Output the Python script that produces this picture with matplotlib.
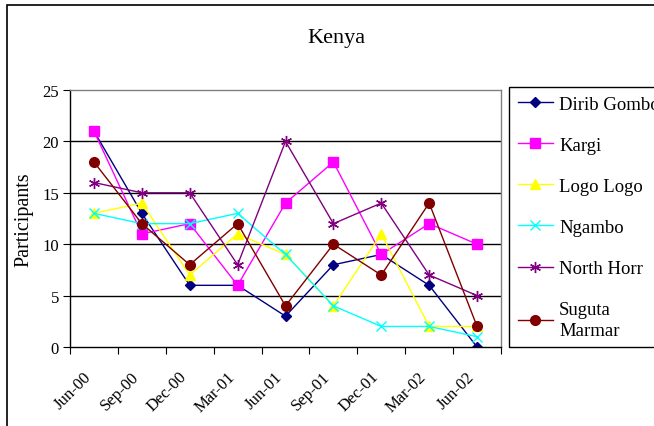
import numpy as np
import matplotlib
matplotlib.use('Agg')
from matplotlib import pyplot as plt
from matplotlib.patches import Rectangle
from matplotlib.transforms import ScaledTranslation

plt.rcParams['font.family'] = ['Liberation Serif', 'DejaVu Serif']

# data
dates = ['Jun-00', 'Sep-00', 'Dec-00', 'Mar-01', 'Jun-01', 'Sep-01', 'Dec-01', 'Mar-02', 'Jun-02']
dirib_gombo = [21, 13, 6, 6, 3, 8, 9, 6, 0]
kargi = [21, 11, 12, 6, 14, 18, 9, 12, 10]
logo_logo = [13, 14, 7, 11, 9, 4, 11, 2, 2]
ngambo = [13, 12, 12, 13, 9, 4, 2, 2, 1]
north_horr = [16, 15, 15, 8, 20, 12, 14, 7, 5]
suguta_marmar = [18, 12, 8, 12, 4, 10, 7, 14, 2]

series = [
    ('Dirib Gombo', dirib_gombo, '#000080', 'D', 5),
    ('Kargi', kargi, '#FF00FF', 's', 7),
    ('Logo Logo', logo_logo, '#FFFF00', '^', 7),
    ('Ngambo', ngambo, '#00FFFF', 'x', 7),
    ('North Horr', north_horr, '#800080', (6, 2, 0), 8),
    ('Suguta\nMarmar', suguta_marmar, '#800000', 'o', 7),
]

W, H = 654, 427
fig = plt.figure(figsize=(W / 100, H / 100), dpi=100)
ax = fig.add_axes([70 / W, 1 - 348 / H, (501 - 70) / W, (348 - 91) / H])

x = np.arange(len(dates)) + 0.5
for name, vals, col, mk, ms in series:
    ax.plot(x, vals, color=col, marker=mk, markersize=ms, linewidth=1.0,
            markeredgecolor=col, markerfacecolor=col, markeredgewidth=1.0, label=name)

ax.set_xlim(0, len(dates))
ax.set_ylim(0, 25)
ax.set_yticks([0, 5, 10, 15, 20, 25])
ax.set_xticks(np.arange(len(dates) + 1))
ax.set_xticklabels([])
ax.set_xticks(x, minor=True)
ax.set_xticklabels(dates, minor=True, rotation=45, ha='right', rotation_mode='anchor', fontsize=12)
ax.tick_params(axis='x', which='minor', length=0, pad=8)
ax.tick_params(axis='x', which='major', length=5, direction='out')
ax.tick_params(axis='y', length=5, direction='out', labelsize=12, pad=3)
shift = ScaledTranslation(-11 / 100, -10 / 100, fig.dpi_scale_trans)
for lab in ax.get_xticklabels(minor=True):
    lab.set_transform(lab.get_transform() + shift)
for yv in [5, 10, 15, 20]:
    ax.axhline(yv, color='black', linewidth=1.0, zorder=0)
ax.spines['top'].set_color('#808080')
ax.spines['right'].set_color('#808080')
for s in ax.spines.values():
    s.set_linewidth(1.0)

ax.set_ylabel('Participants', fontsize=14.5)
ax.yaxis.set_label_coords(-0.085, 0.5)
fig.text(336 / W, 1 - 38 / H, 'Kenya', fontsize=16, ha='center', va='center')

# outer chart border
fig.patches.append(Rectangle((7 / W, -0.1), 1.2, 1.1 - 6 / H, transform=fig.transFigure,
                             fill=False, edgecolor='black', linewidth=1.2))
# legend box
fig.patches.append(Rectangle((509 / W, 1 - 348 / H), 0.5, (348 - 88) / H, transform=fig.transFigure,
                             fill=False, edgecolor='black', linewidth=1.0))
leg = fig.legend(loc='upper left', bbox_to_anchor=(510 / W, 1 - 89 / H), frameon=False,
                 fontsize=13.5, labelspacing=1.28, handlelength=1.9, handletextpad=0.32,
                 borderaxespad=0.0)
for t in leg.get_texts():
    t.set_linespacing(1.3)

fig.savefig('out.png', dpi=100)
